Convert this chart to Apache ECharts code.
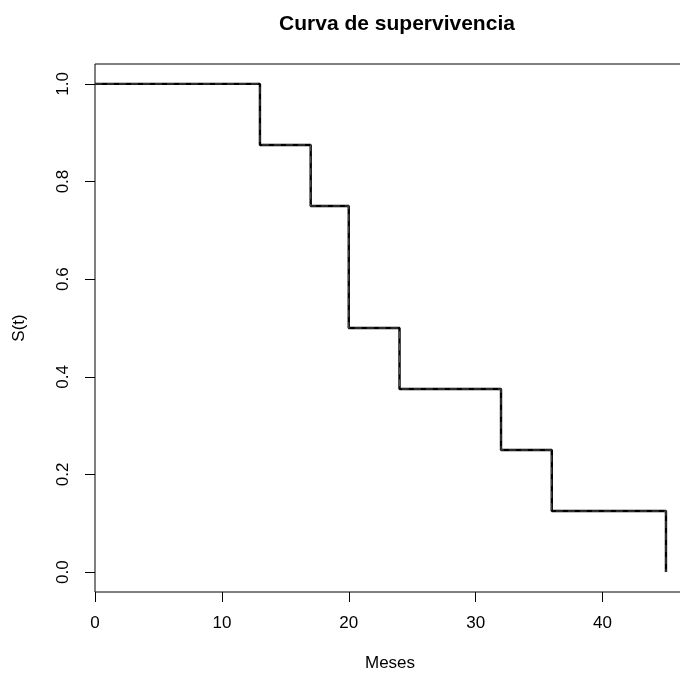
<!DOCTYPE html>
<html><head><meta charset="utf-8">
<script src="https://cdn.jsdelivr.net/npm/echarts@6/dist/echarts.min.js"></script>
<style>html,body{margin:0;padding:0;background:#fff;overflow:hidden}#c{width:690px;height:677px}</style>
</head><body><div id="c"></div>
<script>
const times = [0, 13, 17, 20, 24, 32, 36, 45];
const survival = [1.0, 0.875, 0.75, 0.5, 0.375, 0.25, 0.125, 0.0];
const xTicks = [0, 10, 20, 30, 40];
const yTicks = [0, 0.2, 0.4, 0.6, 0.8, 1.0];
const yTickLabels = ['0.0', '0.2', '0.4', '0.6', '0.8', '1.0'];

const pts = times.map((t, i) => [t, survival[i]]);
const font = 'Liberation Sans, Arial, sans-serif';
const XMAX = 46.5;
const chart = echarts.init(document.getElementById('c'));
chart.setOption({
  animation: false,
  backgroundColor: '#fff',
  title: {text: 'Curva de supervivencia', left: 392, textAlign: 'center', top: 9,
    textStyle: {fontFamily: font, fontSize: 21, fontWeight: 'bold', color: '#000'}},
  grid: {left: 95, right: 5, top: 64, bottom: 83, show: true, borderColor: '#000', borderWidth: 1, backgroundColor: 'transparent'},
  xAxis: {type: 'value', min: 0, max: XMAX,
    name: 'Meses', nameLocation: 'middle', nameGap: 63,
    nameTextStyle: {fontFamily: font, fontSize: 17, color: '#000'},
    axisLine: {show: false, onZero: false}, splitLine: {show: false},
    axisTick: {show: true, length: 10, lineStyle: {color: '#000'}, customValues: xTicks},
    axisLabel: {fontFamily: font, fontSize: 17, color: '#000', margin: 23, customValues: xTicks}},
  yAxis: {type: 'value', min: -0.0408, max: 1.0408,
    name: 'S(t)', nameLocation: 'middle', nameGap: 67,
    nameTextStyle: {fontFamily: font, fontSize: 17, color: '#000'},
    axisLine: {show: false, onZero: false}, splitLine: {show: false},
    axisTick: {show: true, length: 10, lineStyle: {color: '#000'}, customValues: yTicks},
    axisLabel: {fontFamily: font, fontSize: 17, color: '#000', rotate: 90, margin: 23, customValues: yTicks,
      formatter: v => yTickLabels[yTicks.findIndex(t => Math.abs(t - v) < 1e-6)] ?? ''}},
  series: [
    {type: 'line', step: 'end', data: pts, symbol: 'none', lineStyle: {color: '#000', width: 2.4}, z: 2},
    {type: 'line', step: 'end', data: pts, symbol: 'none', lineStyle: {color: '#555', width: 1, type: [7, 5]}, z: 3}
  ]
});
</script></body></html>
